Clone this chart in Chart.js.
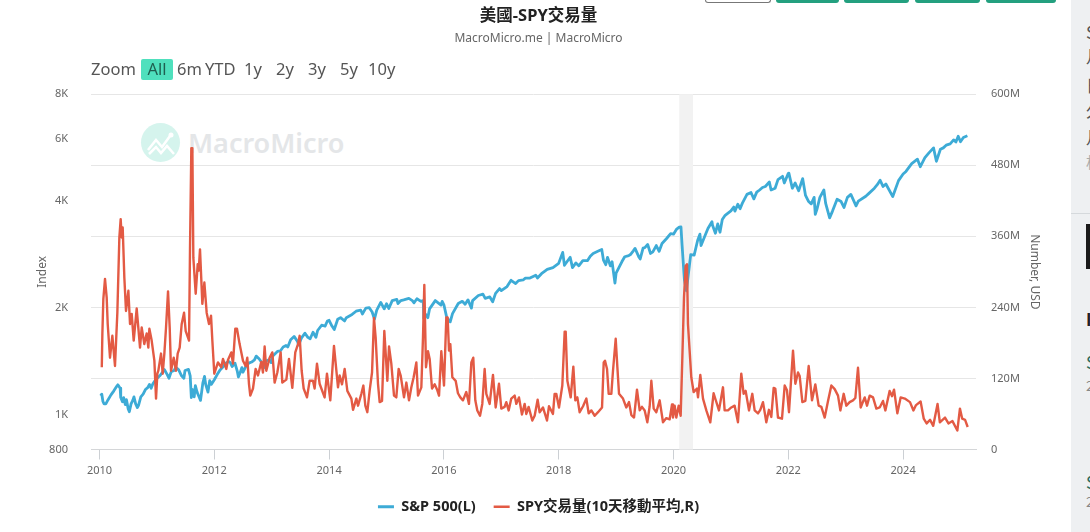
<!DOCTYPE html>
<html>
<head>
<meta charset="utf-8">
<title>美國-SPY交易量</title>
<script src="https://cdn.jsdelivr.net/npm/chart.js@4"></script>
<style>
html,body{margin:0;padding:0;background:#fff;width:1090px;height:532px;overflow:hidden;font-family:"Noto Sans","Noto Sans CJK TC",sans-serif;}
#myChart{position:absolute;left:0;top:0;}
.abs{position:absolute;white-space:nowrap;}
.range{position:absolute;top:58px;font-size:16.5px;line-height:22px;color:#555;}
.topbtn{position:absolute;top:0;height:3px;background:#23a07f;border-radius:0 0 4px 4px;}
#side{position:absolute;left:1071px;top:0;width:19px;height:532px;background:#eef0f2;overflow:hidden;}
#side span{position:absolute;left:15px;color:#555;font-size:17px;line-height:20px;font-family:"Noto Sans CJK TC",sans-serif;}
</style>
</head>
<body>
<div class="topbtn" style="left:705px;width:64px;background:#fff;border:1px solid #777;border-top:0;height:2px;"></div>
<div class="topbtn" style="left:776px;width:63px;"></div>
<div class="topbtn" style="left:844px;width:65px;"></div>
<div class="topbtn" style="left:915px;width:65px;"></div>
<div class="topbtn" style="left:986px;width:70px;"></div>

<div class="abs" style="left:141px;top:123px;width:39px;height:39px;border-radius:50%;background:#d5f4ed;">
<svg width="39" height="39"><polyline points="7,27 15,17 21,24 29,13" fill="none" stroke="#fff" stroke-width="2.5"/><polyline points="8,31 15,24 20,30 26,23 33,31" fill="none" stroke="#fff" stroke-width="2.5"/><circle cx="30" cy="12" r="2.5" fill="#fff"/></svg>
</div>
<div class="abs" style="left:188px;top:124px;font-size:27px;line-height:38px;font-weight:600;color:#e4e6e8;">MacroMicro</div>

<canvas id="myChart" width="1090" height="532"></canvas>

<span class="range" style="left:91px;">Zoom</span>
<span class="range" style="left:141px;width:32px;height:21px;top:59px;line-height:20px;text-align:center;background:#4fe0bd;border-radius:2px;color:#1f5f50;">All</span>
<span class="range" style="left:177px;">6m</span>
<span class="range" style="left:205px;">YTD</span>
<span class="range" style="left:244px;">1y</span>
<span class="range" style="left:276px;">2y</span>
<span class="range" style="left:308px;">3y</span>
<span class="range" style="left:340px;">5y</span>
<span class="range" style="left:368px;">10y</span>

<div id="side">
<span style="top:22px;">S</span>
<span style="top:46px;">月</span>
<span style="top:75px;">日</span>
<span style="top:100px;">久</span>
<span style="top:127px;">月</span>
<span style="top:152px;color:#aaa;font-size:15px;">相</span>
<div style="position:absolute;left:0;top:213px;width:19px;height:1px;background:#d5d9dc;"></div>
<div style="position:absolute;left:15px;top:224px;width:4px;height:45px;background:#1a1a1a;"></div>
<span style="top:309px;color:#222;font-weight:700;">I</span>
<span style="top:352px;color:#2d6a5c;">S</span>
<span style="top:375px;color:#888;font-size:14px;">2</span>
<span style="top:472px;color:#2d6a5c;">S</span>
<span style="top:491px;color:#888;font-size:14px;">2</span>
</div>

<script>
var chartTitle = '美國-SPY交易量';
var chartSubtitle = 'MacroMicro.me | MacroMicro';
var seriesNames = ['S&P 500(L)', 'SPY交易量(10天移動平均,R)'];
var yearTicks = [2010, 2012, 2014, 2016, 2018, 2020, 2022, 2024];
var indexTicks = [800, 1000, 2000, 4000, 6000, 8000];
var indexLabels = ['800', '1K', '2K', '4K', '6K', '8K'];
var volumeTicks = [0, 120, 240, 360, 480, 600];
var volumeLabels = ['0', '120M', '240M', '360M', '480M', '600M'];
var recession = [2020.10, 2020.34];

// [year, index level]
var spxIndex = [
[2010.02,1133],[2010.04,1145],[2010.06,1092],[2010.08,1075],[2010.11,1075],[2010.15,1105],[2010.2,1140],[2010.25,1170],[2010.3,1205],[2010.32,1217],[2010.36,1190],[2010.37,1120],[2010.4,1090],[2010.42,1120],[2010.45,1070],[2010.47,1105],[2010.5,1040],[2010.52,1022],[2010.55,1075],[2010.58,1100],[2010.6,1125],[2010.63,1075],[2010.66,1050],[2010.68,1065],[2010.72,1125],[2010.76,1145],[2010.8,1180],[2010.84,1195],[2010.87,1220],[2010.9,1190],[2010.93,1225],[2010.98,1258],
[2011.05,1290],[2011.1,1320],[2011.13,1343],[2011.18,1300],[2011.21,1270],[2011.25,1325],[2011.3,1335],[2011.33,1363],[2011.38,1340],[2011.43,1290],[2011.47,1270],[2011.49,1335],[2011.55,1345],[2011.58,1290],[2011.6,1120],[2011.62,1180],[2011.65,1125],[2011.67,1210],[2011.7,1160],[2011.73,1130],[2011.76,1100],[2011.8,1230],[2011.83,1285],[2011.85,1220],[2011.89,1160],[2011.92,1250],[2011.95,1220],[2012.0,1257],
[2012.05,1300],[2012.1,1340],[2012.15,1365],[2012.2,1400],[2012.25,1415],[2012.28,1405],[2012.31,1370],[2012.36,1400],[2012.4,1330],[2012.42,1280],[2012.45,1315],[2012.48,1360],[2012.5,1320],[2012.55,1370],[2012.6,1400],[2012.65,1410],[2012.7,1430],[2012.73,1465],[2012.78,1440],[2012.82,1410],[2012.87,1360],[2012.9,1420],[2012.95,1430],[2012.99,1405],
[2013.01,1462],[2013.1,1510],[2013.15,1515],[2013.2,1555],[2013.25,1570],[2013.28,1555],[2013.33,1630],[2013.39,1665],[2013.45,1610],[2013.47,1575],[2013.52,1650],[2013.58,1700],[2013.63,1655],[2013.67,1640],[2013.72,1710],[2013.77,1655],[2013.8,1730],[2013.87,1790],[2013.93,1780],[2013.97,1840],[2014.0,1848],
[2014.05,1780],[2014.09,1741],[2014.15,1860],[2014.2,1880],[2014.27,1840],[2014.3,1880],[2014.4,1920],[2014.47,1960],[2014.55,1975],[2014.58,1925],[2014.64,2000],[2014.7,2005],[2014.75,1950],[2014.79,1862],[2014.83,1975],[2014.9,2075],[2014.96,1990],[2015.0,2058],
[2015.04,1995],[2015.1,2100],[2015.18,2115],[2015.2,2060],[2015.25,2100],[2015.3,2110],[2015.39,2130],[2015.45,2100],[2015.48,2070],[2015.53,2125],[2015.6,2090],[2015.64,2100],[2015.65,1870],[2015.68,1920],[2015.72,1880],[2015.75,1990],[2015.85,2100],[2015.9,2070],[2015.95,2040],[2015.97,2090],[2016.0,2044],
[2016.05,1880],[2016.11,1830],[2016.15,1930],[2016.25,2060],[2016.32,2090],[2016.37,2050],[2016.42,2110],[2016.48,2000],[2016.5,2100],[2016.6,2170],[2016.68,2190],[2016.72,2130],[2016.8,2150],[2016.85,2085],[2016.9,2200],[2016.97,2270],[2017.0,2240],
[2017.1,2300],[2017.17,2395],[2017.25,2345],[2017.3,2390],[2017.38,2400],[2017.42,2430],[2017.5,2430],[2017.6,2475],[2017.63,2430],[2017.7,2500],[2017.8,2570],[2017.9,2600],[2018.0,2673],
[2018.07,2870],[2018.1,2640],[2018.2,2780],[2018.24,2600],[2018.3,2680],[2018.35,2630],[2018.42,2720],[2018.48,2720],[2018.5,2720],[2018.55,2800],[2018.6,2850],[2018.7,2900],[2018.75,2925],[2018.78,2730],[2018.82,2650],[2018.85,2780],[2018.9,2630],[2018.93,2700],[2018.98,2351],
[2019.0,2510],[2019.1,2700],[2019.15,2790],[2019.22,2810],[2019.25,2830],[2019.3,2900],[2019.33,2945],[2019.4,2780],[2019.42,2750],[2019.47,2950],[2019.5,2960],[2019.55,3020],[2019.6,2850],[2019.64,2880],[2019.7,3000],[2019.75,2890],[2019.8,3040],[2019.88,3140],[2019.95,3240],
[2020.0,3230],[2020.05,3330],[2020.1,3380],[2020.13,3386],[2020.15,3000],[2020.19,2400],[2020.225,2237],[2020.26,2500],[2020.3,2830],[2020.36,2820],[2020.42,3100],[2020.46,3230],[2020.48,3000],[2020.55,3200],[2020.6,3350],[2020.67,3500],[2020.68,3420],[2020.73,3250],[2020.77,3450],[2020.81,3270],[2020.85,3550],[2020.9,3650],[2021.0,3756],
[2021.05,3850],[2021.07,3750],[2021.12,3920],[2021.16,3810],[2021.2,3950],[2021.28,4180],[2021.35,4230],[2021.4,4060],[2021.45,4240],[2021.5,4300],[2021.55,4370],[2021.6,4400],[2021.67,4530],[2021.7,4300],[2021.77,4350],[2021.82,4600],[2021.9,4700],[2021.93,4500],[2022.0,4790],
[2022.01,4796],[2022.07,4350],[2022.12,4500],[2022.18,4280],[2022.25,4630],[2022.3,4150],[2022.35,4000],[2022.4,3930],[2022.45,4100],[2022.47,3670],[2022.5,3800],[2022.55,4100],[2022.62,4300],[2022.65,3950],[2022.72,3590],[2022.77,3750],[2022.85,4050],[2022.92,3990],[2022.97,3840],
[2023.03,4100],[2023.09,4180],[2023.18,3880],[2023.22,4000],[2023.35,4130],[2023.4,4200],[2023.5,4350],[2023.55,4450],[2023.6,4580],[2023.65,4400],[2023.7,4470],[2023.82,4120],[2023.92,4570],[2024.0,4770],
[2024.05,4850],[2024.15,5100],[2024.25,5250],[2024.3,5000],[2024.38,5300],[2024.45,5470],[2024.53,5650],[2024.58,5180],[2024.65,5600],[2024.7,5650],[2024.75,5750],[2024.82,5800],[2024.88,5950],[2024.92,5870],[2024.96,6090],[2025.0,5880],[2025.05,6040],[2025.12,6110]
];

// [year, volume in millions]
var spyVolume = [
[2010.04,139],[2010.05,195],[2010.067,254],[2010.096,288],[2010.125,257],[2010.143,212],[2010.183,155],[2010.224,192],[2010.27,141],[2010.311,231],[2010.346,358],[2010.369,389],[2010.387,358],[2010.404,375],[2010.433,290],[2010.462,234],[2010.503,268],[2010.532,212],[2010.561,229],[2010.596,184],[2010.648,238],[2010.706,172],[2010.735,206],[2010.781,178],[2010.822,196],[2010.851,172],[2010.869,204],[2010.909,184],[2010.956,150],[2010.985,86],
[2011.008,128],[2011.025,133],[2011.072,162],[2011.101,128],[2011.13,162],[2011.159,206],[2011.194,267],[2011.223,206],[2011.246,133],[2011.293,155],[2011.333,133],[2011.362,162],[2011.397,172],[2011.432,212],[2011.473,231],[2011.502,200],[2011.56,184],[2011.577,340],[2011.6,509],[2011.618,509],[2011.635,324],[2011.676,263],[2011.711,313],[2011.728,302],[2011.751,338],[2011.792,246],[2011.827,282],[2011.867,231],[2011.908,212],[2011.943,226],[2011.966,184],[2012.0,128],
[2012.064,147],[2012.122,139],[2012.151,153],[2012.209,136],[2012.238,151],[2012.296,164],[2012.325,145],[2012.366,204],[2012.395,204],[2012.441,178],[2012.5,150],[2012.546,141],[2012.575,155],[2012.604,111],[2012.627,91],[2012.674,103],[2012.72,136],[2012.761,125],[2012.819,148],[2012.848,130],[2012.877,174],[2012.906,133],[2012.964,155],
[2013.011,164],[2013.051,113],[2013.098,130],[2013.156,164],[2013.185,113],[2013.255,118],[2013.301,153],[2013.359,104],[2013.411,164],[2013.458,178],[2013.487,192],[2013.522,133],[2013.557,103],[2013.615,88],[2013.661,116],[2013.719,116],[2013.748,103],[2013.789,145],[2013.835,111],[2013.922,88],[2013.963,128],[2014.021,83],
[2014.085,175],[2014.155,105],[2014.184,125],[2014.225,110],[2014.271,136],[2014.318,99],[2014.388,86],[2014.417,67],[2014.475,86],[2014.504,74],[2014.562,94],[2014.597,108],[2014.631,74],[2014.666,63],[2014.707,100],[2014.748,130],[2014.782,222],[2014.811,189],[2014.852,111],[2014.881,80],[2014.922,82],[2014.962,200],[2014.997,145],
[2015.015,116],[2015.044,174],[2015.084,145],[2015.131,91],[2015.171,88],[2015.212,136],[2015.247,125],[2015.305,88],[2015.346,113],[2015.392,83],[2015.433,105],[2015.473,122],[2015.52,147],[2015.549,91],[2015.607,105],[2015.636,190],[2015.659,278],[2015.688,139],[2015.723,166],[2015.752,153],[2015.793,103],[2015.839,110],[2015.886,100],[2015.915,91],[2015.955,166],[2016.002,108],
[2016.042,223],[2016.065,223],[2016.089,167],[2016.112,178],[2016.147,122],[2016.205,116],[2016.245,95],[2016.286,88],[2016.332,83],[2016.39,97],[2016.437,77],[2016.478,147],[2016.512,155],[2016.547,83],[2016.582,66],[2016.629,57],[2016.669,77],[2016.71,136],[2016.739,94],[2016.797,77],[2016.855,126],[2016.902,71],[2016.96,111],
[2017.0,69],[2017.058,72],[2017.087,80],[2017.128,66],[2017.174,86],[2017.233,91],[2017.262,77],[2017.308,88],[2017.36,59],[2017.407,77],[2017.436,60],[2017.476,72],[2017.54,49],[2017.581,57],[2017.633,84],[2017.668,63],[2017.726,71],[2017.796,49],[2017.831,73],[2017.9,60],[2017.929,94],[2017.958,94],
[2018.005,71],[2018.063,108],[2018.104,199],[2018.122,199],[2018.151,116],[2018.209,88],[2018.255,140],[2018.29,83],[2018.325,88],[2018.365,63],[2018.424,73],[2018.482,86],[2018.522,61],[2018.569,66],[2018.627,57],[2018.685,63],[2018.755,71],[2018.784,147],[2018.807,150],[2018.842,136],[2018.871,94],[2018.917,94],[2018.946,133],[2018.993,187],
[2019.022,139],[2019.051,94],[2019.12,86],[2019.178,71],[2019.225,80],[2019.266,58],[2019.312,54],[2019.364,101],[2019.411,66],[2019.451,72],[2019.498,66],[2019.544,46],[2019.585,73],[2019.614,116],[2019.655,69],[2019.701,63],[2019.759,83],[2019.817,46],[2019.875,53],[2019.933,51],[2019.974,76],[2019.991,54],
[2020.02,74],[2020.049,54],[2020.09,74],[2020.125,57],[2020.154,155],[2020.183,257],[2020.212,310],[2020.235,313],[2020.252,212],[2020.281,167],[2020.31,122],[2020.351,97],[2020.409,103],[2020.427,88],[2020.467,126],[2020.514,86],[2020.572,66],[2020.641,46],[2020.699,95],[2020.734,84],[2020.792,66],[2020.862,105],[2020.891,66],[2020.949,66],
[2021.007,71],[2021.065,74],[2021.123,46],[2021.181,128],[2021.222,94],[2021.257,99],[2021.315,66],[2021.373,94],[2021.414,66],[2021.472,61],[2021.512,67],[2021.559,80],[2021.617,46],[2021.663,67],[2021.704,55],[2021.745,104],[2021.774,103],[2021.82,54],[2021.89,52],[2021.937,108],[2021.977,100],[2022.012,63],
[2022.082,167],[2022.123,111],[2022.169,130],[2022.198,124],[2022.245,80],[2022.297,82],[2022.355,141],[2022.413,83],[2022.471,110],[2022.529,74],[2022.576,72],[2022.634,54],[2022.692,82],[2022.75,108],[2022.808,102],[2022.866,91],[2022.907,66],[2022.965,94],
[2023.011,74],[2023.069,80],[2023.127,83],[2023.168,87],[2023.214,138],[2023.261,71],[2023.331,88],[2023.371,74],[2023.418,91],[2023.476,88],[2023.534,69],[2023.592,71],[2023.65,82],[2023.691,66],[2023.766,99],[2023.807,90],[2023.842,101],[2023.9,61],[2023.957,88],
[2024.03,86],[2024.12,80],[2024.18,66],[2024.225,75],[2024.305,81],[2024.36,52],[2024.41,44],[2024.47,50],[2024.525,40],[2024.6,77],[2024.64,46],[2024.73,54],[2024.79,44],[2024.86,48],[2024.945,32],[2024.99,69],[2025.03,52],[2025.08,50],[2025.125,38]
];

function toPoints(list){
    return list.map(function(p){ return {x: p[0], y: p[1]}; });
}

var recessionBand = {
    id: 'recessionBand',
    beforeDatasetsDraw: function(chart){
        var ctx = chart.ctx, area = chart.chartArea, xs = chart.scales.x;
        var x0 = xs.getPixelForValue(recession[0]), x1 = xs.getPixelForValue(recession[1]);
        ctx.save();
        ctx.fillStyle = '#f2f2f2';
        ctx.fillRect(x0, area.top, x1 - x0, area.bottom - area.top);
        ctx.restore();
    }
};

var baseFont = '"Noto Sans","Noto Sans CJK TC",sans-serif';

var ctx = document.getElementById('myChart').getContext('2d');
var myChart = new Chart(ctx, {
    type: 'line',
    data: {
        datasets: [{
            label: seriesNames[0],
            data: toPoints(spxIndex),
            yAxisID: 'yIndex',
            borderColor: '#3dabd6',
            backgroundColor: '#3dabd6',
            borderWidth: 2.8,
            order: 2
        }, {
            label: seriesNames[1],
            data: toPoints(spyVolume),
            yAxisID: 'yVolume',
            borderColor: '#e35a44',
            backgroundColor: '#e35a44',
            borderWidth: 2.4,
            order: 1
        }]
    },
    plugins: [recessionBand],
    options: {
        responsive: false,
        animation: false,
        layout: {padding: {left: 35, right: 48, top: 0, bottom: 8}},
        elements: {point: {radius: 0}, line: {tension: 0, borderJoinStyle: 'round'}},
        plugins: {
            title: {
                display: true,
                text: chartTitle,
                color: '#222',
                font: {family: baseFont, size: 16.5, weight: 'bold'},
                padding: {top: 6, bottom: 4}
            },
            subtitle: {
                display: true,
                text: chartSubtitle,
                color: '#666',
                font: {family: baseFont, size: 12, weight: 'normal'},
                padding: {top: 2, bottom: 48}
            },
            legend: {
                position: 'bottom',
                labels: {
                    usePointStyle: true,
                    pointStyle: 'line',
                    pointStyleWidth: 16,
                    boxHeight: 10,
                    padding: 18,
                    color: '#222',
                    font: {family: baseFont, size: 14.5, weight: 'bold'},
                    sort: function(a, b){ return a.datasetIndex - b.datasetIndex; }
                }
            },
            tooltip: {enabled: false}
        },
        scales: {
            x: {
                type: 'linear',
                min: 2009.852,
                max: 2025.27,
                afterBuildTicks: function(axis){
                    axis.ticks = yearTicks.map(function(v){ return {value: v}; });
                },
                afterFit: function(axis){ axis.height = 32; },
                grid: {drawOnChartArea: false, drawTicks: true, tickLength: 10, color: '#ccd0d4'},
                border: {color: '#d4d6d8'},
                ticks: {
                    autoSkip: false,
                    maxRotation: 0,
                    padding: 5,
                    color: '#666',
                    font: {family: baseFont, size: 11},
                    callback: function(v){ return String(v); }
                }
            },
            yIndex: {
                type: 'logarithmic',
                position: 'left',
                min: 800,
                max: 8000,
                afterBuildTicks: function(axis){
                    axis.ticks = indexTicks.map(function(v){ return {value: v}; });
                },
                afterFit: function(axis){ axis.width = 56; },
                grid: {display: false},
                border: {display: false},
                title: {display: true, text: 'Index', color: '#666', font: {family: baseFont, size: 12}, padding: 0},
                ticks: {
                    autoSkip: false,
                    padding: 15,
                    color: '#666',
                    font: {family: baseFont, size: 11},
                    callback: function(v){ return indexLabels[indexTicks.indexOf(v)]; }
                }
            },
            yVolume: {
                type: 'linear',
                position: 'right',
                min: 0,
                max: 600,
                afterBuildTicks: function(axis){
                    axis.ticks = volumeTicks.map(function(v){ return {value: v}; });
                },
                afterFit: function(axis){ axis.width = 66; },
                grid: {color: '#e6e6e6', drawTicks: false},
                border: {display: false},
                title: {display: true, text: 'Number, USD', color: '#666', font: {family: baseFont, size: 12}, padding: 0},
                ticks: {
                    autoSkip: false,
                    padding: 15,
                    color: '#666',
                    font: {family: baseFont, size: 11},
                    callback: function(v){ return volumeLabels[volumeTicks.indexOf(v)]; }
                }
            }
        }
    }
});
</script>
</body>
</html>
